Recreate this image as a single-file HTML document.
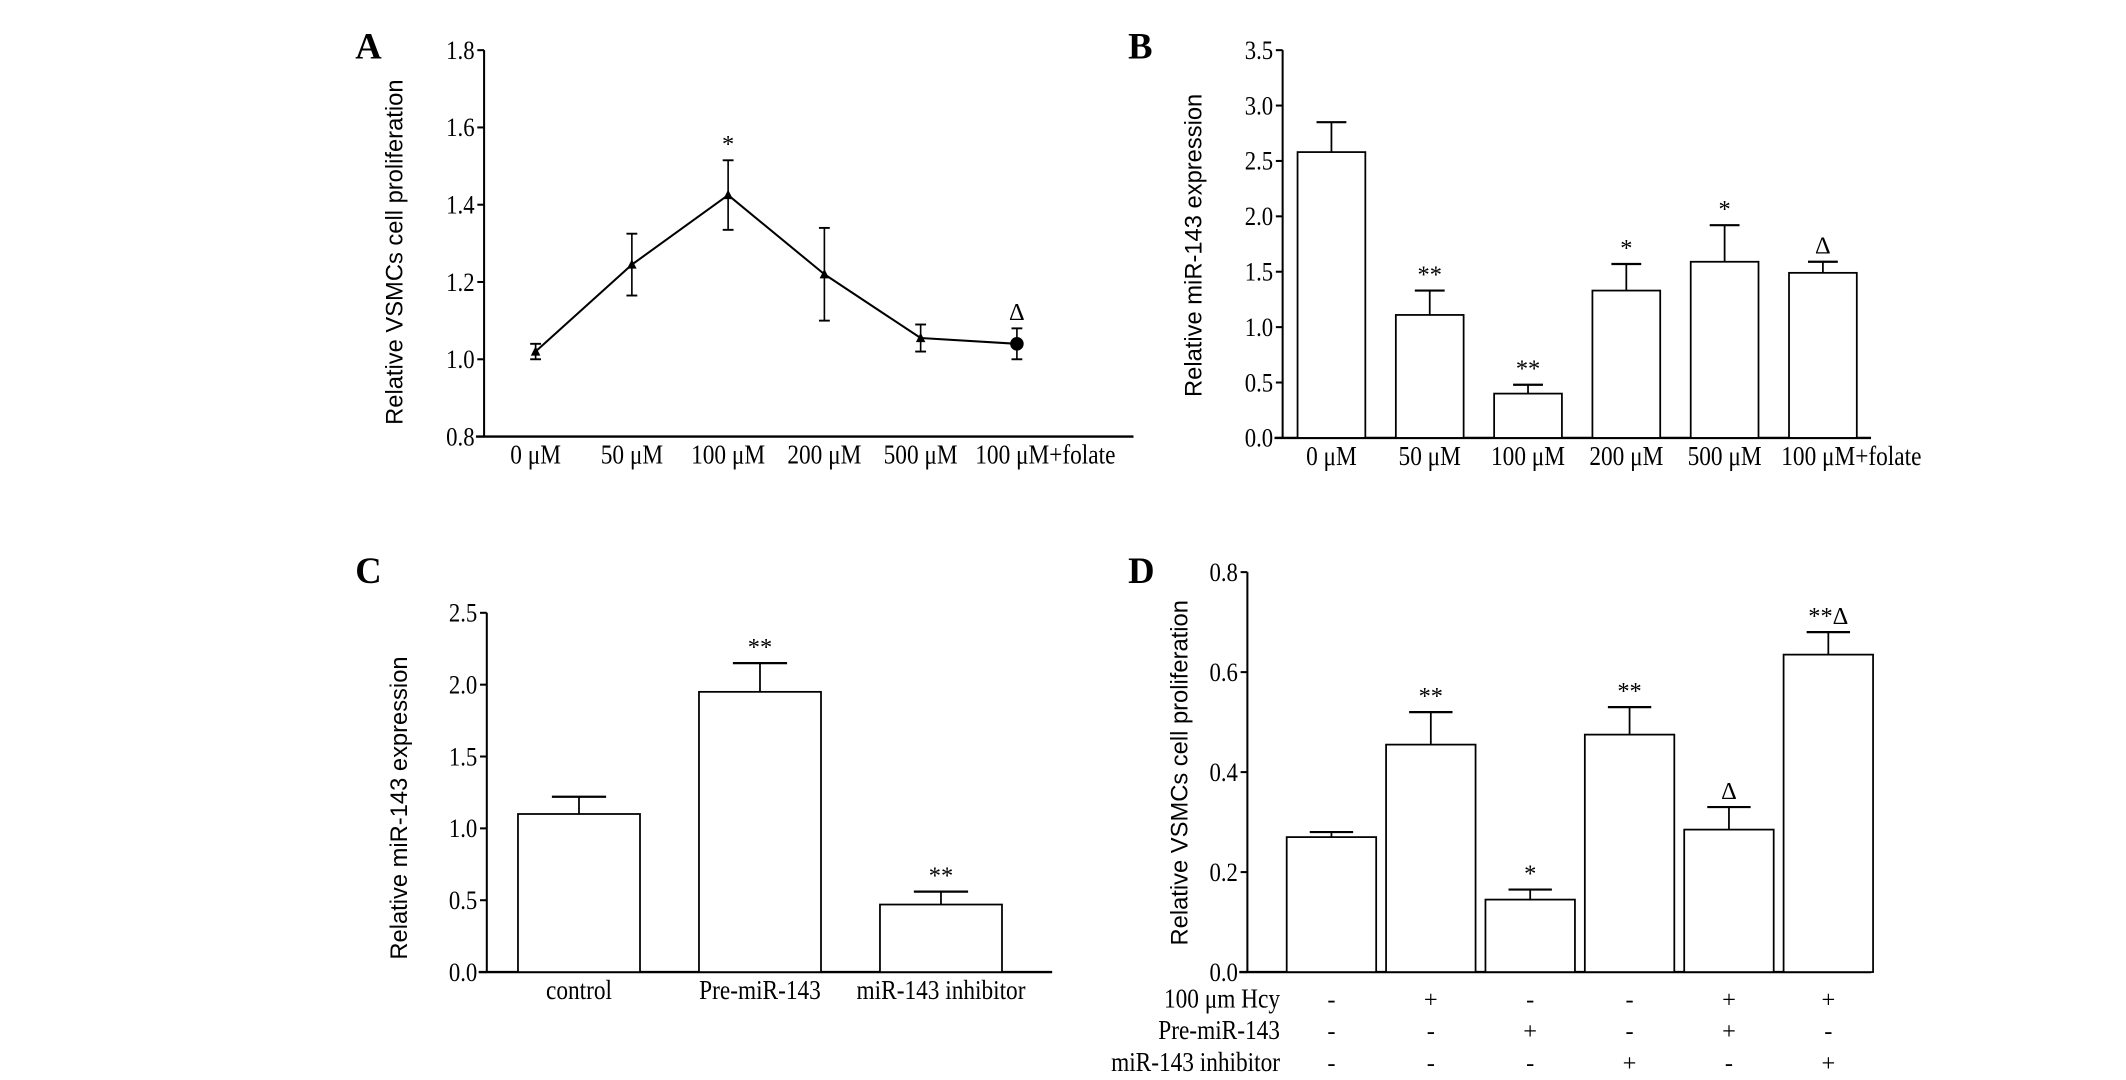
<!DOCTYPE html>
<html><head><meta charset="utf-8"><style>
html,body{margin:0;padding:0;background:#fff;}
svg{display:block;font-family:"Liberation Serif",serif;}
.c{transform:scaleX(0.86);transform-box:fill-box;transform-origin:center;}
.e{transform:scaleX(0.86);transform-box:fill-box;transform-origin:right;}
.yt{font-family:"Liberation Sans",sans-serif;}
</style></head><body>
<svg id="fig" width="2126" height="1080" viewBox="0 0 1568 796.6" xmlns="http://www.w3.org/2000/svg"></svg>
<script>
// Panel A data
const aCats=["0 μM","50 μM","100 μM","200 μM","500 μM","100 μM+folate"];
const aVals=[1.02,1.245,1.425,1.22,1.055,1.04];
const aErr=[0.02,0.08,0.09,0.12,0.035,0.04];
const aMarks=["","","*","","","Δ"];
const aTicks=["0.8","1.0","1.2","1.4","1.6","1.8"];
// Panel B data
const bCats=["0 μM","50 μM","100 μM","200 μM","500 μM","100 μM+folate"];
const bVals=[2.58,1.11,0.40,1.33,1.59,1.49];
const bErr=[0.27,0.22,0.08,0.24,0.33,0.10];
const bMarks=["","**","**","*","*","Δ"];
const bTicks=["0.0","0.5","1.0","1.5","2.0","2.5","3.0","3.5"];
// Panel C data
const cCats=["control","Pre-miR-143","miR-143 inhibitor"];
const cVals=[1.10,1.95,0.47];
const cErr=[0.12,0.20,0.09];
const cMarks=["","**","**"];
const cTicks=["0.0","0.5","1.0","1.5","2.0","2.5"];
// Panel D data
const dVals=[0.27,0.455,0.145,0.475,0.285,0.635];
const dErr=[0.01,0.065,0.02,0.055,0.045,0.045];
const dMarks=["","**","*","**","Δ","**Δ"];
const dTicks=["0.0","0.2","0.4","0.6","0.8"];
const dRowLabels=["100 μm Hcy","Pre-miR-143","miR-143 inhibitor"];
const dHcy=["-","+","-","-","+","+"];
const dPre=["-","-","+","-","+","-"];
const dInh=["-","-","-","+","-","+"];

const NS="http://www.w3.org/2000/svg";
const svg=document.getElementById('fig');
function mk(tag,attrs,parent){const e=document.createElementNS(NS,tag);for(const k in attrs)e.setAttribute(k,attrs[k]);(parent||svg).appendChild(e);return e;}
function txt(s,x,y,size,anchor,parent,extra){const t=mk('text',Object.assign({x:x,y:y,'font-size':size,'text-anchor':anchor||'middle',fill:'#000'},extra||{}),parent);t.textContent=s;return t;}

function panel(o){
  const g=mk('g',{});
  
  
  const ymin=o.ymin,ymax=o.ymax;
  const Y=v=>o.bottom-(v-ymin)/(ymax-ymin)*(o.bottom-o.top);
  const X=i=>o.x0+o.step*i;
  const L=txt(o.letter,o.lx,o.ly,27,'start',g,{'font-weight':'bold'});
  
  
  const ya=mk('line',{x1:o.ax,y1:o.top,x2:o.ax,y2:o.bottom,stroke:'#000','stroke-width':1.5},g);
  
  
  const xa=mk('line',{x1:o.ax-6,y1:o.bottom,x2:o.xend,y2:o.bottom,stroke:'#000','stroke-width':1.8},g);
  
  
  o.ticks.forEach(t=>{
    const v=parseFloat(t),y=Y(v);
    mk('line',{x1:o.ax-5,y1:y,x2:o.ax,y2:y,stroke:'#000','stroke-width':1.5},g);
    const tl=txt(t,o.ax-7,y+6.5,19.5,'end',g,{class:'e'});
    
    
  });
  const yt=txt(o.ylabel,0,0,17.5,'middle',g,{class:'yt',transform:`translate(${o.ylx},${o.yly}) rotate(-90)`});
  
  
  o.vals.forEach((v,i)=>{
    const cx=X(i),y=Y(v),ye=Y(v+o.err[i]);
    if(o.type==='bar'){
      const r=mk('rect',{x:cx-o.bw/2,y:y,width:o.bw,height:o.bottom-y,fill:'#fff',stroke:'#000','stroke-width':1.3},g);
      
      
      mk('line',{x1:cx,y1:y,x2:cx,y2:ye,stroke:'#000','stroke-width':1.3},g);
      mk('line',{x1:cx-o.cap,y1:ye,x2:cx+o.cap,y2:ye,stroke:'#000','stroke-width':1.6},g);
    } else {
      const yl=Y(v-o.err[i]);
      mk('line',{x1:cx,y1:ye,x2:cx,y2:yl,stroke:'#000','stroke-width':1.2},g);
      mk('line',{x1:cx-4,y1:ye,x2:cx+4,y2:ye,stroke:'#000','stroke-width':1.4},g);
      mk('line',{x1:cx-4,y1:yl,x2:cx+4,y2:yl,stroke:'#000','stroke-width':1.4},g);
      if(i>0){const p=mk('line',{x1:X(i-1),y1:Y(o.vals[i-1]),x2:cx,y2:y,stroke:'#000','stroke-width':1.5},g);
        
        }
      let m;
      if(i===o.vals.length-1) m=mk('circle',{cx:cx,cy:y,r:5,fill:'#000'},g);
      else m=mk('polygon',{points:`${cx},${y-4} ${cx-3.5},${y+3} ${cx+3.5},${y+3}`,fill:'#000'},g);
      
      
    }
    if(o.marks[i]){
      const mt=txt(o.marks[i],cx,ye-6,18,'middle',g);
      
      
    }
    if(o.cats){
      const off=(o.cats[i].length>10 && o.shiftLast)?o.shiftLast:0;
      const cl=txt(o.cats[i],cx+off,o.bottom+20,20,'middle',g,{class:'c'});
      
      
    }
  });
  return {g,X};
}

panel({name:'panel-a',letter:'A',lx:262,ly:43,type:'line',ax:357,top:37,bottom:322,xend:836,ymin:0.8,ymax:1.8,x0:395,step:71,shiftLast:21,
  vals:aVals,err:aErr,marks:aMarks,ticks:aTicks,cats:aCats,ylabel:'Relative VSMCs cell proliferation',ylx:297,yly:186});
panel({name:'panel-b',letter:'B',lx:832,ly:43,type:'bar',ax:946,top:37,bottom:323,xend:1380,ymin:0,ymax:3.5,x0:982,step:72.5,bw:50,cap:11,shiftLast:21,
  vals:bVals,err:bErr,marks:bMarks,ticks:bTicks,cats:bCats,ylabel:'Relative miR-143 expression',ylx:886,yly:181});
panel({name:'panel-c',letter:'C',lx:262,ly:430,type:'bar',ax:359,top:452,bottom:717,xend:776,ymin:0,ymax:2.5,x0:427,step:133.5,bw:90,cap:20,
  vals:cVals,err:cErr,marks:cMarks,ticks:cTicks,cats:cCats,ylabel:'Relative miR-143 expression',ylx:300,yly:596});
const D=panel({name:'panel-d',letter:'D',lx:832,ly:430,type:'bar',ax:920,top:422,bottom:717,xend:1380,ymin:0,ymax:0.8,x0:982,step:73.3,bw:66,cap:16,
  vals:dVals,err:dErr,marks:dMarks,ticks:dTicks,cats:null,ylabel:'Relative VSMCs cell proliferation',ylx:876,yly:570});
[dHcy,dPre,dInh].forEach((row,r)=>{
  const y=743+r*23.5;
  const rl=txt(dRowLabels[r],944,y,20,'end',D.g,{class:'e'});
  
  
  row.forEach((s,i)=>{
    const c=txt(s,D.X(i),y,18,'middle',D.g);
    
    
  });
});
</script>
</body></html>
